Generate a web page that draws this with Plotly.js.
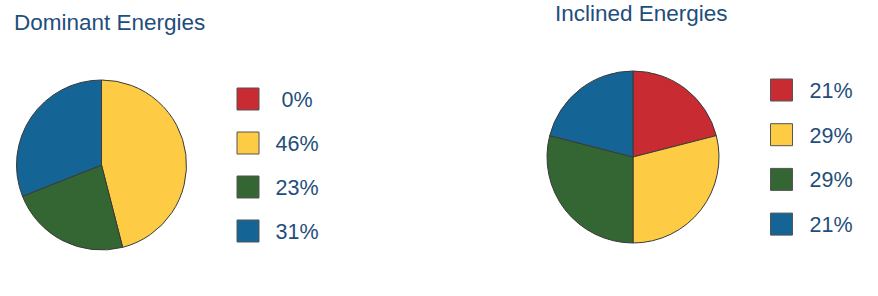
<!DOCTYPE html>
<html>
<head>
<meta charset="utf-8">
<script src="https://cdn.plot.ly/plotly-3.0.1.min.js"></script>
<style>html,body{margin:0;padding:0;background:#fff;}#chart{width:878px;height:296px;}</style>
</head>
<body>
<div id="chart"></div>
<script>
// Data
const categories = ["Red", "Yellow", "Green", "Blue"];
const colors = ["#C92B33", "#FDCC44", "#336633", "#156496"];
const dominantValues = [0, 46, 23, 31];
const inclinedValues = [21, 29, 29, 21];
const dominantLabels = ["0%", "46%", "23%", "31%"];
const inclinedLabels = ["21%", "29%", "29%", "21%"];
const titles = ["Dominant Energies", "Inclined Energies"];

const W = 878, H = 296;
const txtColor = "#1F4E7A";
const fontFam = "Liberation Sans, Arial, sans-serif";

function pie(values, domain) {
  return {
    type: "pie", values: values, labels: categories, sort: false,
    direction: "clockwise", rotation: 0, textinfo: "none", hoverinfo: "none",
    marker: {colors: colors, line: {color: "#3a3a3a", width: 1}},
    domain: domain, showlegend: false
  };
}

function legendTraces(labels, sqX, txtX, y0, dy) {
  const ys = labels.map((_, i) => y0 + i * dy);
  return [
    {type: "scatter", mode: "markers", xaxis: "x2", yaxis: "y2",
     x: labels.map(() => sqX), y: ys,
     marker: {symbol: "square", size: 22, color: colors, line: {color: "#555", width: 1}},
     hoverinfo: "none", showlegend: false},
    {type: "scatter", mode: "text", xaxis: "x2", yaxis: "y2",
     x: labels.map(() => txtX), y: ys.map(v => v + 2.5), text: labels, textposition: "middle center",
     textfont: {family: fontFam, size: 21.5, color: txtColor},
     hoverinfo: "none", showlegend: false}
  ];
}

const data = [
  pie(dominantValues, {x: [16 / W, 187 / W], y: [1 - 250 / H, 1 - 80 / H]}),
  pie(inclinedValues, {x: [547 / W, 719 / W], y: [1 - 243 / H, 1 - 71 / H]}),
  ...legendTraces(dominantLabels, 248, 297, 99, 44),
  ...legendTraces(inclinedLabels, 781.5, 831, 90, 44.7)
];

const layout = {
  width: W, height: H,
  margin: {l: 0, r: 0, t: 0, b: 0},
  paper_bgcolor: "#fff", plot_bgcolor: "rgba(0,0,0,0)",
  showlegend: false,
  xaxis2: {domain: [0, 1], range: [0, W], visible: false, fixedrange: true},
  yaxis2: {domain: [0, 1], range: [H, 0], visible: false, fixedrange: true},
  annotations: [
    {text: titles[0], xref: "paper", yref: "paper", x: 12 / W, y: 1 - 22 / H,
     xanchor: "left", yanchor: "middle", showarrow: false,
     font: {family: fontFam, size: 22.5, color: txtColor}},
    {text: titles[1], xref: "paper", yref: "paper", x: 553 / W, y: 1 - 14 / H,
     xanchor: "left", yanchor: "middle", showarrow: false,
     font: {family: fontFam, size: 22.5, color: txtColor}}
  ]
};

Plotly.newPlot("chart", data, layout, {staticPlot: true, displayModeBar: false});
</script>
</body>
</html>
